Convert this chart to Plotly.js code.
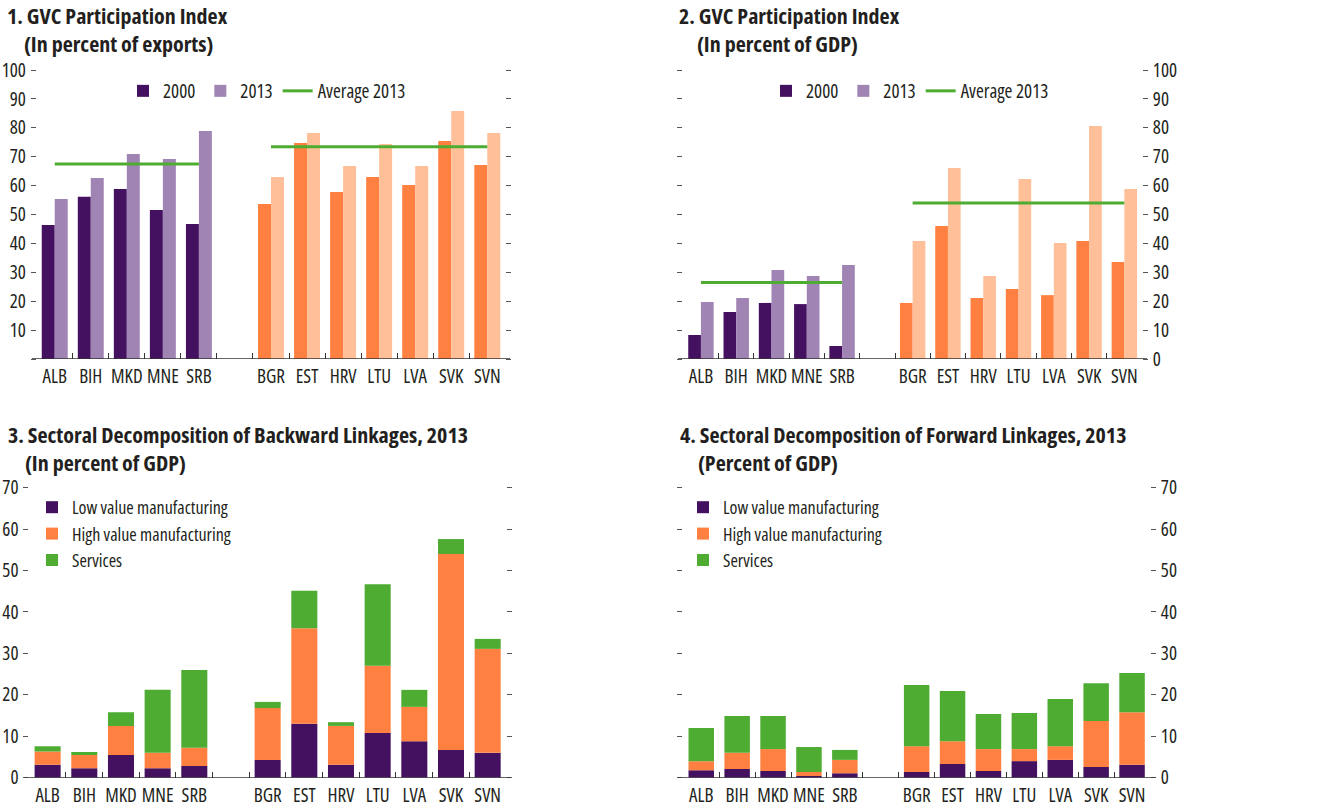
<!DOCTYPE html>
<html>
<head>
<meta charset="utf-8">
<script src="https://cdn.plot.ly/plotly-3.0.1.min.js"></script>
<style>
html,body{margin:0;padding:0;background:#fff}
#chart{width:1333px;height:810px}
svg text{font-stretch:75% !important}
</style>
</head>
<body>
<div id="chart"></div>
<script>
// ---- data ----
const wbCountries = ['ALB','BIH','MKD','MNE','SRB'];
const ceeCountries = ['BGR','EST','HRV','LTU','LVA','SVK','SVN'];
const countries = wbCountries.concat(ceeCountries);
const gapLabel = ' ';
const xCats = wbCountries.concat([gapLabel], ceeCountries);

// Panel 1: GVC participation, percent of exports
const partExp2000 = [46.4, 56.1, 58.8, 51.6, 46.7, 53.6, 74.7, 57.8, 63.0, 60.2, 75.4, 67.1];
const partExp2013 = [55.4, 62.6, 70.9, 69.2, 78.9, 63.0, 78.2, 66.8, 74.4, 66.8, 85.8, 78.2];
const avgExp2013 = [67.5, 73.4]; // WB, CEE

// Panel 2: GVC participation, percent of GDP
const partGdp2000 = [8.3, 16.3, 19.4, 19.0, 4.5, 19.4, 46.0, 21.1, 24.2, 22.1, 40.8, 33.6];
const partGdp2013 = [19.7, 21.1, 30.8, 28.7, 32.5, 40.8, 66.1, 28.7, 62.3, 40.1, 80.6, 58.8];
const avgGdp2013 = [26.5, 54.0];

// Panel 3: backward linkages 2013 (segments)
const bwdLow  = [3.1, 2.3, 5.5, 2.3, 2.8, 4.3, 13.0, 3.1, 10.8, 8.8, 6.7, 6.0];
const bwdHigh = [3.2, 3.2, 7.0, 3.7, 4.4, 12.5, 23.1, 9.4, 16.2, 8.3, 47.3, 25.1];
const bwdSvc  = [1.3, 0.7, 3.3, 15.2, 18.8, 1.5, 9.0, 0.9, 19.7, 4.1, 3.6, 2.4];

// Panel 4: forward linkages 2013 (segments)
const fwdLow  = [1.8, 2.1, 1.6, 0.4, 1.1, 1.4, 3.3, 1.6, 4.0, 4.3, 2.6, 3.1];
const fwdHigh = [2.2, 3.9, 5.3, 1.0, 3.2, 6.2, 5.5, 5.3, 2.9, 3.3, 11.1, 12.7];
const fwdSvc  = [8.0, 8.9, 8.0, 6.0, 2.4, 14.8, 12.1, 8.5, 8.7, 11.4, 9.1, 9.5];

const pctTicks100 = [0,10,20,30,40,50,60,70,80,90,100];
const pctText100a = ['','10','20','30','40','50','60','70','80','90','100'];
const pctText100b = ['0','10','20','30','40','50','60','70','80','90','100'];
const pctTicks70 = [0,10,20,30,40,50,60,70];

// ---- style ----
const C_DPURP = '#441160', C_LPURP = '#a084b3', C_ORANGE = '#ff8040', C_LORANGE = '#ffbf99', C_GREEN = '#4dac31';
const FONT = '"Open Sans","Roboto Condensed",sans-serif';
const TXT = '#231f20';
const W = 1333, H = 810;
const px = x => x / W, py = y => 1 - y / H;

const col2000 = countries.map((c, i) => i < wbCountries.length ? C_DPURP : C_ORANGE);
const col2013 = countries.map((c, i) => i < wbCountries.length ? C_LPURP : C_LORANGE);
const add = (a, b) => a.map((v, i) => v + b[i]);

const traces = [];
function pairPanel(xa, ya, lg, v2000, v2013, avg) {
  traces.push({type:'bar', name:'2000', x:countries, y:v2000, xaxis:xa, yaxis:ya, legend:lg,
    width:0.36, offset:-0.36, marker:{color:col2000}});
  traces.push({type:'bar', name:'2013', x:countries, y:v2013, xaxis:xa, yaxis:ya, legend:lg,
    width:0.36, offset:0, marker:{color:col2013}});
  traces.push({type:'scatter', mode:'lines', name:'Average 2013', x:[wbCountries[0], wbCountries[wbCountries.length-1]],
    y:[avg[0], avg[0]], xaxis:xa, yaxis:ya, legend:lg, line:{color:C_GREEN, width:3}});
  traces.push({type:'scatter', mode:'lines', name:'Average 2013', x:[ceeCountries[0], ceeCountries[ceeCountries.length-1]],
    y:[avg[1], avg[1]], xaxis:xa, yaxis:ya, legend:lg, showlegend:false, line:{color:C_GREEN, width:3}});
}
function stackPanel(xa, ya, lg, low, high, svc) {
  const w = 0.71;
  traces.push({type:'bar', name:'Low value manufacturing', x:countries, y:low, base:low.map(() => 0),
    xaxis:xa, yaxis:ya, legend:lg, width:w, marker:{color:C_DPURP}});
  traces.push({type:'bar', name:'High value manufacturing', x:countries, y:high, base:low,
    xaxis:xa, yaxis:ya, legend:lg, width:w, marker:{color:C_ORANGE}});
  traces.push({type:'bar', name:'Services', x:countries, y:svc, base:add(low, high),
    xaxis:xa, yaxis:ya, legend:lg, width:w, marker:{color:C_GREEN}});
}
pairPanel('x', 'y', 'legend', partExp2000, partExp2013, avgExp2013);
pairPanel('x2', 'y2', 'legend2', partGdp2000, partGdp2013, avgGdp2013);
stackPanel('x3', 'y3', 'legend3', bwdLow, bwdHigh, bwdSvc);
stackPanel('x4', 'y4', 'legend4', fwdLow, fwdHigh, fwdSvc);

function xAxis(d0, d1, anchor) {
  return {domain:[px(d0), px(d1)], anchor:anchor, type:'category', categoryorder:'array', categoryarray:xCats,
    range:[-0.5, xCats.length - 0.5], tickson:'boundaries', ticks:'inside', ticklen:6, tickwidth:1, tickcolor:'#333',
    tickangle:0, showline:false, showgrid:false, zeroline:false, tickfont:{family:FONT, size:19, color:TXT},
    ticklabelstandoff:4, fixedrange:true};
}
function yAxis(top, bot, anchor, side, max, tv, tt) {
  return {domain:[py(bot), py(top)], anchor:anchor, side:side, range:[0, max], tickvals:tv, ticktext:tt,
    ticks:'outside', ticklen:5, tickwidth:1, tickcolor:'#555', mirror:'ticks', showline:false, showgrid:false,
    zeroline:false, tickfont:{family:FONT, size:19, color:TXT}, ticklabelstandoff:1, fixedrange:true};
}
function legendAt(x, y, orient, size) {
  return {x:px(x), y:py(y), xanchor:'left', yanchor:'middle', orientation:orient, traceorder:'normal',
    font:{family:FONT, size:size, color:TXT}, bgcolor:'rgba(0,0,0,0)', borderwidth:0, itemclick:false, itemdoubleclick:false};
}
function title(x, y, text) {
  return {xref:'paper', yref:'paper', x:px(x), y:py(y), xanchor:'left', yanchor:'middle', showarrow:false,
    text:'<b>' + text + '</b>', font:{family:FONT, size:22, color:TXT}};
}
function baseLine(x0, x1, yref) {
  return {type:'line', xref:'paper', yref:yref, x0:px(x0), x1:px(x1), y0:0, y1:0, line:{color:'#333', width:1.5}};
}

const layout = {
  width:W, height:H, margin:{l:0, r:0, t:0, b:0}, paper_bgcolor:'#fff', plot_bgcolor:'rgba(0,0,0,0)',
  barmode:'overlay', showlegend:true, hovermode:false,
  font:{family:FONT, color:TXT},
  xaxis: xAxis(36.7, 505.3, 'y'),
  yaxis: yAxis(70, 359, 'x', 'left', 100, pctTicks100, pctText100a),
  xaxis2: xAxis(683.3, 1142, 'y2'),
  yaxis2: yAxis(70, 359, 'x2', 'right', 100, pctTicks100, pctText100b),
  xaxis3: xAxis(29.3, 506, 'y3'),
  yaxis3: yAxis(487.7, 777.7, 'x3', 'left', 70, pctTicks70, pctTicks70.map(String)),
  xaxis4: xAxis(683.3, 1150, 'y4'),
  yaxis4: yAxis(487.7, 777.7, 'x4', 'right', 70, pctTicks70, pctTicks70.map(String)),
  legend: legendAt(123, 91, 'h', 19),
  legend2: legendAt(766, 91, 'h', 19),
  legend3: legendAt(32, 534, 'v', 18),
  legend4: legendAt(683, 534, 'v', 18),
  annotations: [
    title(5, 15, '1. GVC Participation Index'), title(22, 43, '(In percent of exports)'),
    title(677, 15, '2. GVC Participation Index'), title(695, 43, '(In percent of GDP)'),
    title(6, 434, '3. Sectoral Decomposition of Backward Linkages, 2013'), title(23, 462, '(In percent of GDP)'),
    title(678, 434, '4. Sectoral Decomposition of Forward Linkages, 2013'), title(696, 462, '(Percent of GDP)')
  ],
  shapes: [baseLine(32, 510, 'y'), baseLine(678, 1147, 'y2'), baseLine(24.5, 510.5, 'y3'), baseLine(678, 1155, 'y4')]
};

Plotly.newPlot('chart', traces, layout, {displayModeBar:false, staticPlot:true});
</script>
</body>
</html>
